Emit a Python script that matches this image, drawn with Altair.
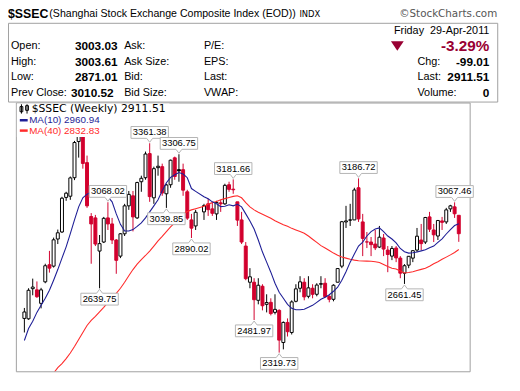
import altair as alt
import pandas as pd
import numpy as np

# ---------------- data ----------------
first_week = "2009-04-27"          # weekly bars, dated by the Monday of the week
last_week = "2011-04-25"
closed_weeks = ["2010-02-15"]      # Spring Festival: market shut all week

open_ = [2490, 2488, 2638, 2632, 2565, 2672, 2757, 2750, 2885, 2920,
         3092, 3098, 3190, 3370, 3415, 3265, 2997, 2990, 2825, 2870,
         2990, 2960, 2880, 2800, 2911, 3050, 3100, 2990, 3170, 3190,
         3310, 3090, 3240, 3245, 3110, 3155, 3289, 3230, 3230, 3120,
         2980, 2950, 3020, 3060, 3035, 3010, 3065, 3060, 3155, 3133,
         3070, 2980, 2850, 2670, 2670, 2580, 2650, 2560, 2570, 2520,
         2530, 2370, 2470, 2420, 2575, 2640, 2670, 2600, 2640, 2610,
         2660, 2665, 2600, 2585, 2670, 2750, 2970, 2980, 2980, 3140,
         2970, 2870, 2870, 2860, 2845, 2890, 2830, 2800, 2840, 2790,
         2715, 2755, 2790, 2830, 2880, 2870, 2995, 2930, 2900, 2975,
         2970, 3035, 3045, 3003.03]
high = [2542, 2640, 2688, 2674, 2642, 2762, 2826, 2892, 2932, 3095,
        3120, 3196, 3373, 3455, 3478, 3300, 3014, 3005, 2905, 2995,
        3068.02, 2990, 2885, 2915, 3060, 3124, 3124, 3170, 3200, 3320,
        3361.38, 3245, 3300, 3260, 3160, 3280, 3295, 3306.75, 3260, 3130,
        3010, 3030, 3060, 3085, 3070, 3075, 3080, 3160, 3170, 3181.66,
        3070, 3020, 2870, 2740, 2690, 2690, 2660, 2610, 2590, 2610,
        2535, 2475, 2490, 2580, 2660, 2700, 2690, 2700, 2660, 2665,
        2700, 2690, 2605, 2660, 2740, 2975, 3050, 3060, 3140, 3186.72,
        3010, 2920, 2895, 2930, 2950, 2910, 2850, 2850, 2850, 2800,
        2760, 2800, 2830, 2940, 2960, 2995, 3020, 2960, 2980, 2995,
        3040, 3055, 3067.46, 3003.61]
low = [2420, 2483, 2605, 2592, 2540, 2665, 2718, 2743, 2860, 2915,
       3075, 3080, 3178, 3290, 3235, 3040, 2762, 2850, 2639.75, 2865,
       2930, 2860, 2712, 2790, 2900, 3030, 2923, 2985, 3120, 3180,
       3070, 3060, 3200, 3100, 3039.85, 3140, 3180, 3170, 3100, 2980,
       2890.02, 2930, 2980, 3000, 3000, 2980, 3020, 3055, 3120, 3110,
       2950, 2860, 2680, 2640, 2481.97, 2560, 2530, 2520, 2505, 2510,
       2319.73, 2336, 2400, 2410, 2570, 2620, 2580, 2590, 2590, 2600,
       2640, 2595, 2570, 2575, 2670, 2740, 2940, 2950, 2980, 2970,
       2800, 2840, 2800, 2830, 2840, 2800, 2720, 2780, 2770, 2690,
       2661.45, 2740, 2770, 2820, 2830, 2860, 2920, 2870, 2880, 2930,
       2960, 3020, 2990, 2871.01]
close = [2522, 2630, 2646, 2598, 2632, 2752, 2740, 2881, 2916, 3088,
         3113, 3189, 3365, 3412, 3261, 3050, 2960, 2860, 2862, 2988,
         2960, 2880, 2779, 2911, 3050, 3107, 2995, 3166, 3187, 3308,
         3096, 3235, 3247, 3114, 3154, 3277, 3196, 3224, 3128, 2989,
         2939, 3018, 3051, 3031, 3013, 3067, 3060, 3152, 3132, 3130,
         2979, 2870, 2688, 2697, 2583, 2655, 2553, 2569, 2514, 2535,
         2382, 2470, 2424, 2572, 2637, 2672, 2597, 2642, 2610, 2656,
         2663, 2598, 2585, 2655, 2738, 2971, 2975, 2979, 3129, 2985,
         2888, 2871, 2857, 2841, 2894, 2835, 2808, 2838, 2791, 2715,
         2752, 2799, 2827, 2899, 2862, 2992, 2934, 2906, 2977, 2968,
         3030, 3050, 3010.52, 2911.51]
ma10 = [2380, 2440, 2476, 2520, 2555, 2590, 2630, 2680, 2733, 2790,
        2846, 2912, 2980, 3045, 3090, 3108, 3118, 3122, 3123, 3112,
        3095, 3070, 3010, 2958, 2925, 2925, 2932, 2948, 2965, 2990,
        3020, 3050, 3080, 3125, 3165, 3192, 3205, 3216, 3208, 3190,
        3136, 3122, 3095, 3085, 3070, 3060, 3046, 3048, 3055, 3050,
        3058, 3045, 3010, 2975, 2935, 2880, 2820, 2770, 2720, 2665,
        2620, 2590, 2560, 2540, 2533, 2533, 2536, 2545, 2555, 2570,
        2585, 2595, 2608, 2625, 2645, 2680, 2722, 2770, 2810, 2850,
        2870, 2900, 2922, 2935, 2940, 2922, 2900, 2885, 2866, 2838,
        2822, 2815, 2817, 2820, 2826, 2832, 2842, 2850, 2868, 2886,
        2910, 2932, 2952, 2960.94]
ma40 = [None, None, None, None, None, None, None, 2218, 2245, 2265,
        2290, 2318, 2350, 2385, 2420, 2455, 2480, 2500, 2522, 2545,
        2570, 2595, 2615, 2640, 2670, 2702, 2733, 2760, 2782, 2803,
        2825, 2850, 2876, 2898, 2922, 2945, 2965, 2985, 3008, 3022,
        3030, 3036, 3048, 3058, 3066, 3072, 3080, 3086, 3092, 3097,
        3100, 3090, 3066, 3045, 3030, 3018, 3008, 2998, 2988, 2976,
        2966, 2956, 2948, 2938, 2930, 2922, 2914, 2900, 2884, 2868,
        2852, 2840, 2828, 2815, 2804, 2796, 2790, 2784, 2780, 2777,
        2776, 2775, 2774, 2772, 2768, 2758, 2748, 2740, 2736, 2726,
        2716, 2718, 2722, 2728, 2734, 2740, 2750, 2762, 2772, 2784,
        2795, 2806, 2818, 2832.83]

callout_week = ["2009-08-31", "2009-09-14", "2009-11-23", "2009-12-21",
                "2010-01-11", "2010-02-01", "2010-04-12", "2010-05-17",
                "2010-06-28", "2010-11-08", "2011-01-24", "2011-04-18"]
callout_value = [2639.75, 3068.02, 3361.38, 3039.85, 3306.75, 2890.02,
                 3181.66, 2481.97, 2319.73, 3186.72, 2661.45, 3067.46]
callout_side = ["low", "high", "high", "low", "high", "low",
                "high", "low", "low", "high", "low", "high"]

month_starts = ["2009-05", "2009-06", "2009-07", "2009-08", "2009-09", "2009-10",
                "2009-11", "2009-12", "2010-01", "2010-02", "2010-03", "2010-04",
                "2010-05", "2010-06", "2010-07", "2010-08", "2010-09", "2010-10",
                "2010-11", "2010-12", "2011-01", "2011-02", "2011-03", "2011-04"]
price_ticks = [2300, 2400, 2500, 2600, 2700, 2800, 2900, 3000, 3100, 3200, 3300, 3400, 3500]

hdr_day = "Friday\u00a0 29-Apr-2011"
hdr_open, hdr_high, hdr_low, hdr_prev = 3003.03, 3003.61, 2871.01, 3010.52
hdr_pct, hdr_chg, hdr_last, hdr_vol = -3.29, -99.01, 2911.51, 0
leg_last, leg_ma10, leg_ma40 = 2911.51, 2960.94, 2832.83

# ---------------- frame ----------------
weeks = [d for d in pd.date_range(first_week, last_week, freq="7D").strftime("%Y-%m-%d")
         if d not in closed_weeks]
n = len(weeks)
assert all(len(a) == n for a in (open_, high, low, close, ma10, ma40)), n

RED = "#d2002e"
NAVY = "#1e1e96"
MARED = "#ff2b2b"
DARKRED = "#990033"

df = pd.DataFrame({"date": weeks, "open": open_, "high": high, "low": low,
                   "close": close, "ma10": ma10, "ma40": ma40})
prev = df["close"].shift(1)
df["color"] = np.where(prev.notna() & (df["close"] < prev), RED, "black")
df["fill"] = np.where(df["close"] > df["open"], "white", df["color"])

is_jan = "utcmonth(datum.value) == 0"
xscale = alt.Scale(type="utc",
                   domain=[alt.DateTime(year=2009, month=4, date=21, utc=True),
                           alt.DateTime(year=2011, month=5, date=5, utc=True)])
yscale = alt.Scale(domain=[2227, 3564], nice=False, zero=False)

xaxis = alt.Axis(
    values=[alt.DateTime(year=int(s[:4]), month=int(s[5:7]), date=1, utc=True) for s in month_starts],
    labelExpr="utcmonth(datum.value) == 0 ? utcFormat(datum.value, '%y') : substring(utcFormat(datum.value, '%b'), 0, 1)",
    title=None, ticks=False, domain=False, grid=True,
    gridColor={"condition": {"test": is_jan, "value": "#a6a6a6"}, "value": "#dadada"},
    labelFont="DejaVu Sans", labelColor="black",
    labelFontSize={"condition": {"test": is_jan, "value": 12}, "value": 10},
    labelFontWeight={"condition": {"test": is_jan, "value": "bold"}, "value": "normal"},
    labelPadding=3, labelFlush=False, labelOverlap=False)
yaxis = alt.Axis(orient="right", values=price_ticks, format="d", title=None, ticks=False,
                 domain=False, grid=True, gridColor="#dadada", labelFont="DejaVu Sans",
                 labelFontSize=10, labelColor="black", labelPadding=3)

base = alt.Chart(df)
X = alt.X("date:T", scale=xscale, axis=None)

wicks = base.mark_rule(strokeWidth=1).encode(
    x=alt.X("date:T", scale=xscale, axis=xaxis),
    y=alt.Y("low:Q", scale=yscale, axis=yaxis), y2="high:Q",
    color=alt.Color("color:N", scale=None))
bodies = base.mark_bar(size=3, strokeWidth=1).encode(
    x=X, y=alt.Y("open:Q", scale=yscale, axis=None), y2="close:Q",
    fill=alt.Fill("fill:N", scale=None), stroke=alt.Stroke("color:N", scale=None))
line40 = base.mark_line(color=MARED, strokeWidth=1.1, clip=True).encode(
    x=X, y=alt.Y("ma40:Q", scale=yscale, axis=None))
line10 = base.mark_line(color=NAVY, strokeWidth=1.1, clip=True).encode(
    x=X, y=alt.Y("ma10:Q", scale=yscale, axis=None))

# ---------------- callouts ----------------
cdf = pd.DataFrame({"date": callout_week, "value": callout_value, "side": callout_side})
HIGH_PATH = "M-1,-0.895L1,-0.895L1,-0.263L0.158,-0.263L0,-0.053L-0.158,-0.263L-1,-0.263Z"
LOW_PATH = "M-1,0.895L1,0.895L1,0.263L0.158,0.263L0,0.053L-0.158,0.263L-1,0.263Z"
callouts = []
for side, path, dy in (("high", HIGH_PATH, -11), ("low", LOW_PATH, 11)):
    sub = alt.Chart(cdf).transform_filter(alt.datum.side == side)
    callouts.append(sub.mark_point(shape=path, size=1444, filled=True, fill="white",
                                   stroke="#b4b4b4", strokeWidth=1, opacity=1).encode(
        x=X, y=alt.Y("value:Q", scale=yscale, axis=None)))
    callouts.append(sub.mark_text(dy=dy, font="Liberation Sans", fontSize=9.5, color="black").encode(
        x=X, y=alt.Y("value:Q", scale=yscale, axis=None),
        text=alt.Text("value:Q", format=".2f")))

# ---------------- fixed-position decorations (pixel offsets from plot origin) ----------------
ONE = alt.Data(values=[{"k": 0}])


def txt(s, x, y, size=11, weight="normal", color="black", align="left", font="Liberation Sans"):
    return alt.Chart(ONE).mark_text(text=s, fontSize=size, fontWeight=weight, color=color,
                                    align=align, baseline="middle", font=font).encode(
        x=alt.value(x), y=alt.value(y))


def box(x1, x2, y1, y2, **kw):
    return alt.Chart(ONE).mark_rect(**kw).encode(
        x=alt.value(x1), x2=alt.value(x2), y=alt.value(y1), y2=alt.value(y2))


def dash(x1, x2, y, color):
    return alt.Chart(ONE).mark_rule(color=color, strokeWidth=2.5).encode(
        x=alt.value(x1), x2=alt.value(x2), y=alt.value(y))


L1, L2, L3, L4 = -5, 60, 110, 191       # header columns (left block)
RL, RV = 408, 481                       # header columns (right block)
R1, R2, R3, R4, R5 = -73, -57.5, -41.5, -25.5, -9.5

deco = [
    # legend inside the price panel
    box(1, 156, 1, 12.5, fill="white"),
    box(1, 86, 12.5, 35, fill="white"),
    alt.Chart(ONE).mark_point(shape="M-0.6,-1V1M0.6,-1V1M-0.9,-0.5H-0.3V0.6H-0.9ZM0.3,-0.7H0.9V0.3H0.3Z",
                              size=90, filled=False, color="black", strokeWidth=1, opacity=1).encode(
        x=alt.value(8.5), y=alt.value(6.5)),
    txt(f"$SSEC (Weekly) {leg_last:.2f}", 16, 6.5, size=11, font="DejaVu Sans"),
    dash(4, 12, 18, NAVY),
    txt(f"MA(10) {leg_ma10:.2f}", 13.5, 18, size=10, color=NAVY),
    dash(4, 12, 28.5, MARED),
    txt(f"MA(40) {leg_ma40:.2f}", 13.5, 28.5, size=10, color=MARED),
    # header
    box(-7.5, 489.5, -80.5, -0.5, fill="white", fillOpacity=0, stroke="#a0a0a0", strokeWidth=1),
    txt("$SSEC", -8, -89.5, size=12.5, weight="bold"),
    txt("(Shanghai Stock Exchange Composite Index (EOD))", 34, -89.5, size=10.75),
    txt("INDX", 288, -89.5, size=8.5, font="DejaVu Sans"),
    txt("\u00a9StockCharts.com", 489, -89.5, size=10.5, color="#555555", align="right", font="DejaVu Sans"),
    txt(hdr_day, RV, R1, size=11, align="right"),
    txt("Open:", L1, R2), txt(f"{hdr_open:.2f}", L2, R2, size=12, weight="bold"),
    txt("High:", L1, R3), txt(f"{hdr_high:.2f}", L2, R3, size=12, weight="bold"),
    txt("Low:", L1, R4), txt(f"{hdr_low:.2f}", L2, R4, size=12, weight="bold"),
    txt("Prev Close:", L1, R5), txt(f"{hdr_prev:.2f}", L2 - 4, R5, size=12, weight="bold"),
    txt("Ask:", L3, R2), txt("Ask Size:", L3, R3), txt("Bid:", L3, R4), txt("Bid Size:", L3, R5),
    txt("P/E:", L4, R2), txt("EPS:", L4, R3), txt("Last:", L4, R4), txt("VWAP:", L4, R5),
    alt.Chart(ONE).mark_point(shape="M-1,-0.75L1,-0.75L0,0.75Z", size=169, filled=True,
                              color=DARKRED, opacity=1).encode(x=alt.value(387.5), y=alt.value(R2)),
    txt(f"{hdr_pct:.2f}%", RV, R2, size=15.5, weight="bold", color=DARKRED, align="right"),
    txt("Chg:", RL, R3), txt(f"{hdr_chg:.2f}", RV, R3, size=12, weight="bold", align="right"),
    txt("Last:", RL, R4), txt(f"{hdr_last:.2f}", RV, R4, size=12, weight="bold", align="right"),
    txt("Volume:", RL, R5), txt(f"{hdr_vol}", RV, R5, size=12, weight="bold", align="right"),
]

chart = alt.layer(wicks, bodies, line40, line10, *deco, *callouts).properties(
    width=461, height=273,
    padding={"left": 8, "top": 93, "right": 43, "bottom": 17},
    autosize=alt.AutoSizeParams(type="none"),
).configure_view(stroke="#a0a0a0", strokeWidth=1)

chart.save("out.html", embed_options={"renderer": "svg", "actions": False})
